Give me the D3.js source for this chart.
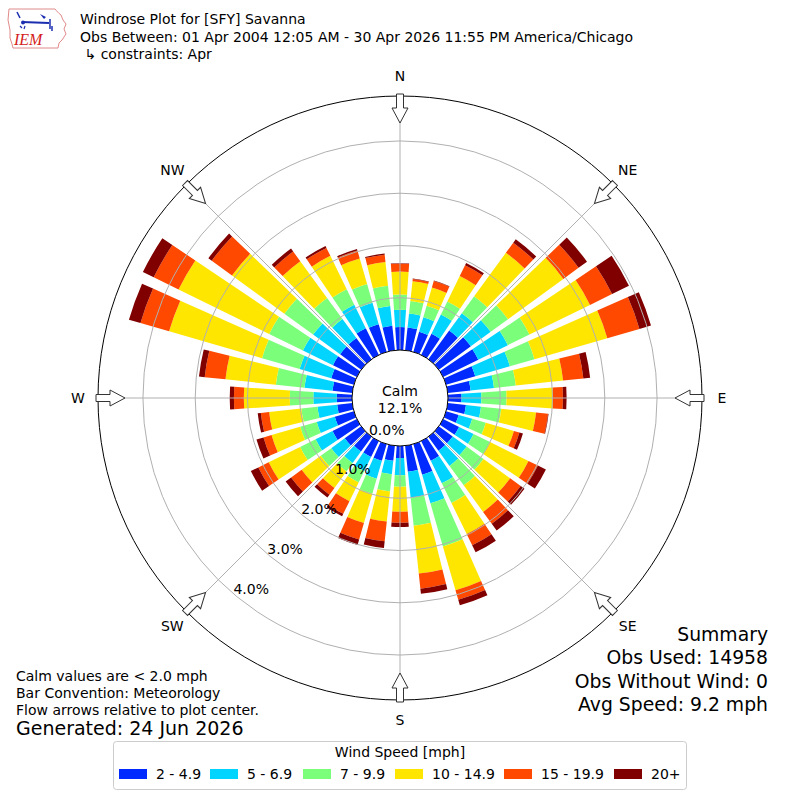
<!DOCTYPE html>
<html><head><meta charset="utf-8">
<script src="https://cdn.jsdelivr.net/npm/d3@7"></script>
<style>
html,body{margin:0;padding:0;background:#fff;}
svg text{font-family:"DejaVu Sans",sans-serif;fill:#000;}
</style></head>
<body>
<svg id="chart" width="800" height="800"></svg>
<script>
// ---------------- data ----------------
const directions = [0,10,20,30,40,50,60,70,80,90,100,110,120,130,140,150,160,170,
                    180,190,200,210,220,230,240,250,260,270,280,290,300,310,320,330,340,350];
const speedBins = ["2 - 4.9","5 - 6.9","7 - 9.9","10 - 14.9","15 - 19.9","20+"];
const binColors = ["#002aff","#00d4ff","#7bff7b","#ffe600","#ff4900","#800000"];
// percent frequency per direction for each speed bin
const bin2to5   = [0.44,0.44,0.40,0.45,0.68,0.76,0.75,0.58,0.44,0.26,0.35,0.25,0.34,0.33,0.33,0.42,0.61,0.50,
                   0.23,0.29,0.33,0.34,0.35,0.39,0.52,0.38,0.29,0.29,0.38,0.45,0.51,0.50,0.50,0.57,0.55,0.47];
const bin5to7   = [0.33,0.27,0.29,0.41,0.41,0.47,0.63,0.69,0.45,0.38,0.29,0.27,0.31,0.33,0.36,0.48,0.57,0.50,
                   0.33,0.26,0.36,0.30,0.27,0.32,0.36,0.36,0.38,0.45,0.54,0.63,0.64,0.64,0.45,0.50,0.43,0.38];
const bin7to10  = [0.29,0.24,0.23,0.28,0.40,0.41,0.46,0.49,0.42,0.48,0.39,0.27,0.35,0.40,0.46,0.42,0.86,0.54,
                   0.22,0.33,0.30,0.24,0.20,0.25,0.33,0.33,0.31,0.45,0.55,0.75,0.72,0.68,0.50,0.33,0.37,0.39];
const bin10to15 = [0.44,0.38,0.36,0.54,1.03,1.31,1.29,1.45,0.91,0.89,0.67,0.56,0.82,0.63,0.63,0.66,0.87,0.92,
                   0.48,0.58,0.58,0.40,0.39,0.45,0.67,0.57,0.62,0.88,0.97,1.85,1.93,1.24,0.87,0.71,0.51,0.46];
const bin15to20 = [0.15,0.04,0.13,0.23,0.24,0.36,0.47,0.64,0.39,0.19,0.23,0.11,0.20,0.25,0.28,0.24,0.19,0.29,
                   0.21,0.38,0.33,0.27,0.16,0.25,0.22,0.16,0.16,0.19,0.40,0.57,0.53,0.48,0.23,0.17,0.16,0.14];
const bin20plus = [0.01,0.01,0.01,0.05,0.08,0.20,0.36,0.23,0.13,0.07,0.01,0.07,0.17,0.09,0.16,0.15,0.11,0.10,
                   0.08,0.13,0.11,0.05,0.07,0.13,0.16,0.14,0.06,0.08,0.11,0.23,0.23,0.08,0.07,0.04,0.03,0.02];
const ringTicks = [0,1,2,3,4];
const compassLabels = ["N","NE","E","SE","S","SW","W","NW"];
const compassAngles = [0,45,90,135,180,225,270,315];
const calmPct = "12.1%";
const titleLines = ["Windrose Plot for [SFY] Savanna",
  "Obs Between: 01 Apr 2004 12:05 AM - 30 Apr 2026 11:55 PM America/Chicago",
  " \u21b3 constraints: Apr"];
const noteLines = ["Calm values are < 2.0 mph","Bar Convention: Meteorology","Flow arrows relative to plot center."];
const generatedText = "Generated: 24 Jun 2026";
const summaryLines = ["Summary","Obs Used: 14958","Obs Without Wind: 0","Avg Speed: 9.2 mph"];

// ---------------- drawing ----------------
const svg = d3.select("#chart");
const cx = 400, cy = 398;
const rCalm = 48, rOuter = 302;
const r = d3.scaleLinear().domain([0, 4.86]).range([rCalm, rOuter]);
const rad = d => d * Math.PI / 180;
const sectorWidth = 10, opening = 0.78;

const bins = [bin2to5, bin5to7, bin7to10, bin10to15, bin15to20, bin20plus];
const stacked = directions.map((dir, i) => {
  let cum = 0;
  return bins.map((b, k) => { const s = cum; cum += b[i]; return {dir, k, p0: s, p1: cum}; });
});

const plot = svg.append("g").attr("transform", `translate(${cx},${cy})`);
const arc = d3.arc();
plot.append("g").selectAll("path")
  .data(stacked.flat())
  .join("path")
  .attr("d", d => arc({
    innerRadius: r(d.p0), outerRadius: r(d.p1),
    startAngle: rad(d.dir - sectorWidth * opening / 2),
    endAngle: rad(d.dir + sectorWidth * opening / 2)}))
  .attr("fill", d => binColors[d.k]);

// grid
const grid = plot.append("g").attr("stroke", "#b0b0b0").attr("fill", "none").attr("stroke-width", 1);
grid.selectAll("circle").data(ringTicks.slice(1)).join("circle").attr("r", d => r(d));
grid.selectAll("line").data(compassAngles).join("line")
  .attr("x1", d => rCalm * Math.sin(rad(d))).attr("y1", d => -rCalm * Math.cos(rad(d)))
  .attr("x2", d => rOuter * Math.sin(rad(d))).attr("y2", d => -rOuter * Math.cos(rad(d)));

// outer + calm circles
plot.append("circle").attr("r", rOuter).attr("fill", "none").attr("stroke", "#000").attr("stroke-width", 1);
plot.append("circle").attr("r", rCalm).attr("fill", "#fff").attr("stroke", "#000").attr("stroke-width", 1);
plot.append("text").attr("x", 0).attr("y", -2).attr("text-anchor", "middle").attr("font-size", 14).text("Calm");
plot.append("text").attr("x", 0).attr("y", 15).attr("text-anchor", "middle").attr("font-size", 14).text(calmPct);

// ring labels
const labAng = rad(220.4);
plot.selectAll("text.ring").data(ringTicks).join("text").attr("class", "ring")
  .attr("x", d => r(d) * Math.sin(labAng)).attr("y", d => -r(d) * Math.cos(labAng))
  .attr("font-size", 14).text(d => d.toFixed(1) + "%");

// arrows
const arrowPts = [[-3.5,-304],[3.5,-304],[3.5,-290],[8,-290],[0,-275],[-8,-290],[-3.5,-290]];
plot.selectAll("path.arrow").data(compassAngles).join("path").attr("class", "arrow")
  .attr("d", "M" + arrowPts.map(p => p.join(",")).join("L") + "Z")
  .attr("transform", d => `rotate(${d})`)
  .attr("fill", "#fff").attr("stroke", "#333").attr("stroke-width", 1);

// compass labels
plot.selectAll("text.dir").data(compassAngles).join("text").attr("class", "dir")
  .attr("x", d => 322 * Math.sin(rad(d))).attr("y", d => -322 * Math.cos(rad(d)) + 5)
  .attr("text-anchor", "middle").attr("font-size", 14)
  .text((d, i) => compassLabels[i]);

// titles
svg.selectAll("text.title").data(titleLines).join("text").attr("class", "title")
  .attr("x", 80).attr("y", (d, i) => 24 + i * 17.5).attr("font-size", 14)
  .attr("xml:space", "preserve").style("white-space", "pre").text(d => d);

// notes bottom-left
svg.selectAll("text.note").data(noteLines).join("text").attr("class", "note")
  .attr("x", 16).attr("y", (d, i) => 681 + i * 17).attr("font-size", 14).text(d => d);
svg.append("text").attr("x", 16).attr("y", 735).attr("font-size", 19).text(generatedText);

// summary bottom-right
svg.selectAll("text.sum").data(summaryLines).join("text").attr("class", "sum")
  .attr("x", 768).attr("y", (d, i) => 641 + i * 23.3).attr("text-anchor", "end")
  .attr("font-size", 18.8).text(d => d);

// legend
const leg = svg.append("g");
leg.append("rect").attr("x", 113.5).attr("y", 741.5).attr("width", 573).attr("height", 48)
  .attr("rx", 3).attr("fill", "#fff").attr("stroke", "#cccccc");
leg.append("text").attr("x", 400).attr("y", 757).attr("text-anchor", "middle").attr("font-size", 14).text("Wind Speed [mph]");
const legX = [119, 210, 303, 395, 504, 614];
speedBins.forEach((s, i) => {
  leg.append("rect").attr("x", legX[i]).attr("y", 769).attr("width", 28).attr("height", 10).attr("fill", binColors[i]);
  leg.append("text").attr("x", legX[i] + 37).attr("y", 779).attr("font-size", 14).text(s);
});

// logo
const logo = svg.append("g");
logo.append("path")
  .attr("d", "M9,9 L55,9 C57,11 58,13 61,15 L63,20 L66,24 L64,29 L66,34 L62,40 L59,43 L58,48 L13,48 L12,44 L10,38 L10,30 L8,20 Z")
  .attr("fill", "none").attr("stroke", "#e08a8a").attr("stroke-width", 1);
logo.append("path").attr("d", "M17,12 L20,18").attr("stroke", "#1c2fb0").attr("stroke-width", 1.5).attr("fill", "none");
logo.append("path").attr("d", "M22,22 L49,23").attr("stroke", "#1c2fb0").attr("stroke-width", 2).attr("fill", "none");
logo.append("circle").attr("cx", 23).attr("cy", 22.5).attr("r", 2).attr("fill", "#1c2fb0");
logo.append("path").attr("d", "M40,14 L46,17 L44,19 Z").attr("fill", "#1c2fb0");
logo.append("path").attr("d", "M50,19 L50,29 M52,26 L52,31").attr("stroke", "#1c2fb0").attr("stroke-width", 1.5).attr("fill", "none");
logo.append("path").attr("d", "M20,26 L22,28 M25,26 L24,29").attr("stroke", "#1c2fb0").attr("stroke-width", 1.2).attr("fill", "none");
logo.append("text").attr("x", 14).attr("y", 45).attr("font-size", 16)
  .style("font-family", "'Liberation Serif', serif").style("font-style", "italic").style("fill", "#d42020").text("IEM");
</script>
</body></html>
